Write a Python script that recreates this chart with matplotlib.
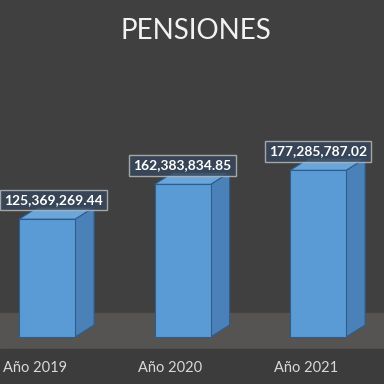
import matplotlib
matplotlib.use("Agg")
import matplotlib.pyplot as plt
from matplotlib.patches import Polygon

plt.rcParams['font.family'] = ['Lato', 'DejaVu Sans']

# datos del grafico
years = ["Año 2019", "Año 2020", "Año 2021"]
pensiones = [125369269.44, 162383834.85, 177285787.02]
title = "PENSIONES"

BG = "#404040"
FRONT = "#5b9bd5"
SIDE = "#4a81b9"
TOP = "#6aa6dc"
EDGE = "#2e5d8c"


def draw_fig():
    fig = plt.figure(figsize=(3.84, 3.84), dpi=100, facecolor=BG)
    ax = fig.add_axes([0, 0, 1, 1])
    ax.set_facecolor(BG)
    ax.set_xlim(-0.258, 2.576)
    ax.set_ylim(-50e6, 358.5e6)
    ax.axis("off")

    # piso 3D
    ax.axhspan(-12.8e6, 25.5e6, color="#565453", zorder=0)
    ax.axhspan(-60e6, -12.8e6, color="#3c3c3c", zorder=0)

    off = 0.09      # desplazamiento de la cara frontal
    w = 0.413       # ancho de barra
    dx, dy = 0.14, 12.8e6  # profundidad

    for i, v in enumerate(pensiones):
        x0 = i + off - w / 2
        x1 = x0 + w
        side = Polygon([(x1, 0), (x1 + dx, dy), (x1 + dx, v + dy), (x1, v)],
                       closed=True, fc=SIDE, ec=EDGE, lw=0.8, zorder=2)
        top = Polygon([(x0, v), (x1, v), (x1 + dx, v + dy), (x0 + dx, v + dy)],
                      closed=True, fc=TOP, ec=EDGE, lw=0.8, zorder=2)
        ax.add_patch(side)
        ax.add_patch(top)
        ax.bar(i + off, v, width=w, color=FRONT, edgecolor=EDGE, lw=0.8, zorder=3)
        # la primera etiqueta se corre un poco para que quepa el texto
        shift = 6 if i == 0 else 0
        ax.annotate(f"{v:,.2f}", xy=(i + off, v), xytext=(shift, 19),
                    textcoords="offset pixels", ha="center", va="center",
                    fontsize=10, fontweight="bold", color="white", zorder=5,
                    bbox=dict(boxstyle="square,pad=0.3", fc="#36475a", alpha=0.85,
                              ec="#b8b8b8", lw=1))
        ax.text(i, -33e6, years[i], ha="center", va="center",
                fontsize=10.5, color="#d9d9d9", zorder=4)

    fig.text(0.51, 0.92, title, ha="center", va="center", fontsize=20,
             color="#f2f2f2")
    fig.savefig("out.png", dpi=100, facecolor=BG)


def main():
    draw_fig()


if __name__ == '__main__':
    main()
